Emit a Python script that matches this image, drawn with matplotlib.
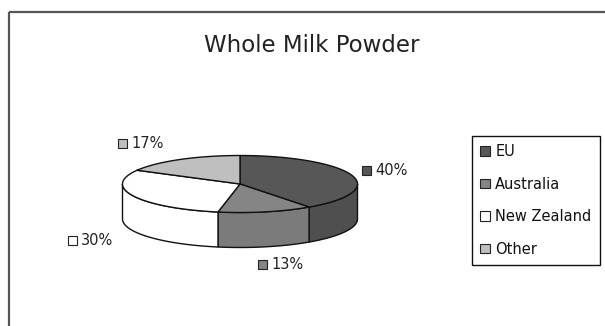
import matplotlib
matplotlib.use("Agg")
import matplotlib.pyplot as plt
import numpy as np
from matplotlib.patches import Polygon, Rectangle, Patch

# data
labels = ["EU", "Australia", "New Zealand", "Other"]
shares = [40, 13, 30, 17]
top_colors = ["#575757", "#858585", "#ffffff", "#bfbfbf"]
side_colors = ["#4f4f4f", "#7b7b7b", "#ffffff", "#b0b0b0"]
title = "Whole Milk Powder"

# small hand nudges for the data labels (x, y in pixels)
label_nudge = [(-17, 1.5), (0, 0), (-5, 1), (-20, 0)]

fig = plt.figure(figsize=(6.05, 3.26), dpi=100)
ax = fig.add_axes([0, 0, 1, 1])
ax.set_xlim(0, 605)
ax.set_ylim(326, 0)
ax.axis("off")

# chart frame (only top and left visible in the crop)
ax.plot([9, 605], [12, 12], color="#555555", lw=1.6, solid_capstyle="butt")
ax.plot([9, 9], [12, 326], color="#555555", lw=1.6, solid_capstyle="butt")

ax.text(312, 45, title, ha="center", va="center", fontsize=16.5, color="#222222")

# 3d pie geometry (pixel space)
cx, cy, rx, ry, depth = 240, 184, 117.5, 28.5, 35


def pt(th, dz=0):
    return cx + rx * np.cos(th), cy - ry * np.sin(th) + dz


total = float(sum(shares))
start = np.pi / 2
angles = []
for s in shares:
    end = start - 2 * np.pi * s / total
    angles.append((start, end))
    start = end

# side walls (front half only)
for (a0, a1), col in zip(angles, side_colors):
    lo, hi = min(a0, a1), max(a0, a1)
    for k in (-1, 0):
        f0, f1 = -np.pi + 2 * np.pi * k, 0 + 2 * np.pi * k
        s0, s1 = max(lo, f0), min(hi, f1)
        if s1 - s0 <= 1e-6:
            continue
        th = np.linspace(s0, s1, 60)
        x, y = pt(th)
        xb, yb = pt(th[::-1], depth)
        poly = np.column_stack([np.r_[x, xb], np.r_[y, yb]])
        ax.add_patch(Polygon(poly, closed=True, facecolor=col,
                             edgecolor="#111111", lw=1.0, zorder=2))

# top faces
for (a0, a1), col in zip(angles, top_colors):
    th = np.linspace(a0, a1, 100)
    x, y = pt(th)
    poly = np.column_stack([np.r_[cx, x], np.r_[cy, y]])
    ax.add_patch(Polygon(poly, closed=True, facecolor=col,
                         edgecolor="#111111", lw=1.0, zorder=3))

# data labels
for (a0, a1), col, s, (nx, ny) in zip(angles, top_colors, shares, label_nudge):
    mid = (a0 + a1) / 2
    lx = cx + 165 * np.cos(mid) + nx
    ly = cy - 47 * np.sin(mid) + (depth if np.sin(mid) < 0 else 0) + ny
    ax.add_patch(Rectangle((lx - 18, ly - 4.5), 9, 9, facecolor=col,
                           edgecolor="#222222", lw=0.8, zorder=4))
    ax.text(lx - 5, ly, f"{s}%", ha="left", va="center", fontsize=10.5,
            color="#222222", zorder=4)

handles = [Patch(facecolor=c, edgecolor="#222222", lw=0.8) for c in top_colors]
leg = ax.legend(handles, labels, loc="upper left",
                bbox_to_anchor=(472 / 605, 1 - 136 / 326), borderaxespad=0,
                fontsize=10.5, handlelength=0.65, handleheight=0.65,
                handletextpad=0.4, labelspacing=1.2, borderpad=0.55,
                fancybox=False, framealpha=1, edgecolor="#111111")
leg.get_frame().set_linewidth(1.0)
for t in leg.get_texts():
    t.set_color("#111111")

fig.savefig("out.png", dpi=100)
